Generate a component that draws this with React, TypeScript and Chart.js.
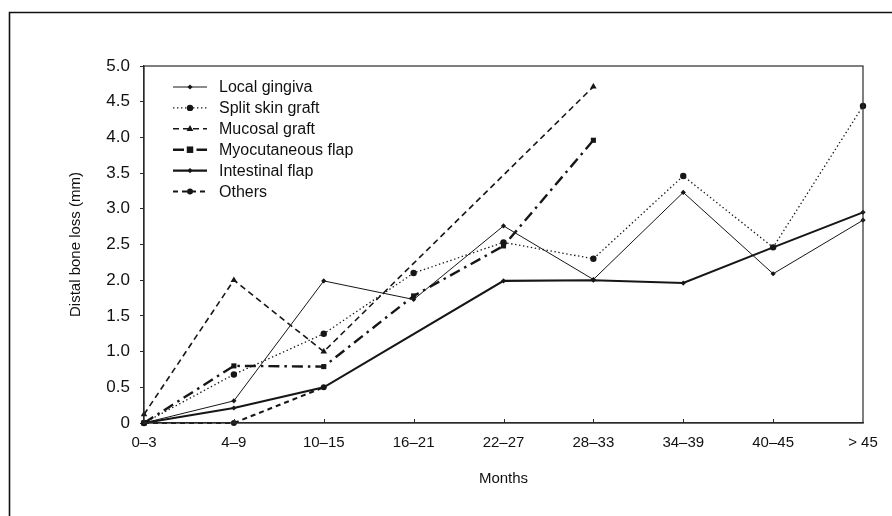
import React, { useEffect, useRef } from 'react';
import { Chart, registerables } from 'chart.js';

Chart.register(...registerables);

const categories = ['0–3', '4–9', '10–15', '16–21', '22–27', '28–33', '34–39', '40–45', '> 45'];

const localGingiva = [0, 0.31, 1.99, 1.73, 2.76, 2.01, 3.23, 2.09, 2.84];
const splitSkinGraft = [0, 0.68, 1.25, 2.1, 2.53, 2.3, 3.46, 2.46, 4.44];
const mucosalGraft = [0.12, 2.0, 1.0, null, null, 4.71, null, null, null];
const myocutaneousFlap = [0, 0.8, 0.79, 1.78, 2.48, 3.96, null, null, null];
const intestinalFlap = [0, 0.21, 0.5, null, 1.99, 2.0, 1.96, 2.46, 2.95];
const others = [0, 0, 0.5, null, null, null, null, null, null];

const seriesNames = ['Local gingiva', 'Split skin graft', 'Mucosal graft', 'Myocutaneous flap', 'Intestinal flap', 'Others'];

const yMin = 0;
const yMax = 5;
const yStep = 0.5;

const INK = '#161616';
const SANS = '"Liberation Sans", Arial, sans-serif';
const NARROW = '"Liberation Sans Narrow", "Arial Narrow", "Liberation Sans", sans-serif';

type Style = { width: number; dash: number[]; point: string; radius: number };
const styles: Style[] = [
  { width: 1, dash: [], point: 'rectRot', radius: 2.6 },
  { width: 1.3, dash: [1.4, 2.6], point: 'circle', radius: 3.2 },
  { width: 1.6, dash: [6, 4], point: 'triangle', radius: 3.8 },
  { width: 2.4, dash: [11, 5, 2.5, 5], point: 'rect', radius: 3.6 },
  { width: 2.1, dash: [], point: 'rectRot', radius: 2.6 },
  { width: 2.1, dash: [5, 4], point: 'circle', radius: 3.0 },
];

function drawMarker(ctx: CanvasRenderingContext2D, kind: string, x: number, y: number, r: number) {
  ctx.beginPath();
  if (kind === 'circle') {
    ctx.arc(x, y, r, 0, Math.PI * 2);
  } else if (kind === 'rect') {
    ctx.rect(x - r * 0.9, y - r * 0.9, r * 1.8, r * 1.8);
  } else if (kind === 'rectRot') {
    ctx.moveTo(x, y - r);
    ctx.lineTo(x + r, y);
    ctx.lineTo(x, y + r);
    ctx.lineTo(x - r, y);
    ctx.closePath();
  } else if (kind === 'triangle') {
    ctx.moveTo(x, y - r);
    ctx.lineTo(x + r * 0.9, y + r * 0.6);
    ctx.lineTo(x - r * 0.9, y + r * 0.6);
    ctx.closePath();
  }
  ctx.fill();
}

const decorPlugin = {
  id: 'decor',
  beforeDraw(chart: any) {
    const ctx = chart.ctx as CanvasRenderingContext2D;
    ctx.save();
    ctx.fillStyle = '#fff';
    ctx.fillRect(0, 0, chart.width, chart.height);
    ctx.strokeStyle = '#111';
    ctx.lineWidth = 1.6;
    ctx.beginPath();
    ctx.moveTo(9.5, chart.height);
    ctx.lineTo(9.5, 12.5);
    ctx.lineTo(chart.width, 12.5);
    ctx.stroke();
    ctx.restore();
  },
  afterDatasetsDraw(chart: any) {
    const ctx = chart.ctx as CanvasRenderingContext2D;
    const { left, right, top, bottom } = chart.chartArea;
    const xs = chart.scales.x;
    ctx.save();
    // frame
    ctx.strokeStyle = '#2a2a2a';
    ctx.lineWidth = 1.2;
    ctx.setLineDash([]);
    ctx.strokeRect(left, top, right - left, bottom - top);
    // inward x ticks
    ctx.lineWidth = 1;
    for (let i = 1; i < categories.length - 1; i++) {
      const px = Math.round(xs.getPixelForValue(i)) + 0.5;
      ctx.beginPath();
      ctx.moveTo(px, bottom);
      ctx.lineTo(px, bottom - 4);
      ctx.stroke();
    }
    // legend
    const lx0 = 173;
    const lx1 = 207;
    const tx = 219;
    const y0 = 87;
    const dy = 20.9;
    ctx.font = '16px ' + SANS;
    ctx.textBaseline = 'middle';
    ctx.textAlign = 'left';
    seriesNames.forEach((name, i) => {
      const y = y0 + i * dy;
      const st = styles[i];
      ctx.strokeStyle = INK;
      ctx.fillStyle = INK;
      ctx.lineWidth = st.width;
      ctx.setLineDash(st.dash);
      ctx.beginPath();
      ctx.moveTo(lx0, y);
      ctx.lineTo(lx1, y);
      ctx.stroke();
      ctx.setLineDash([]);
      drawMarker(ctx, st.point, (lx0 + lx1) / 2, y, st.radius);
      ctx.fillStyle = '#111';
      ctx.fillText(name, tx, y + 1);
    });
    ctx.restore();
  },
};

const seriesData = [localGingiva, splitSkinGraft, mucosalGraft, myocutaneousFlap, intestinalFlap, others];

export default function App() {
  const ref = useRef<HTMLCanvasElement | null>(null);
  useEffect(() => {
    if (!ref.current) return;
    const chart = new Chart(ref.current, {
      type: 'line',
      data: {
        labels: categories,
        datasets: seriesData.map((d, i) => ({
          label: seriesNames[i],
          data: d,
          borderColor: INK,
          backgroundColor: INK,
          borderWidth: styles[i].width,
          borderDash: styles[i].dash,
          pointStyle: styles[i].point as any,
          pointRadius: styles[i].radius,
          pointBorderWidth: 0,
          pointBackgroundColor: INK,
          tension: 0,
          spanGaps: true,
          fill: false,
          clip: false as any,
        })),
      },
      options: {
        animation: false,
        responsive: true,
        maintainAspectRatio: false,
        events: [],
        layout: { padding: { left: 0, right: 29, top: 66, bottom: 0 } },
        plugins: { legend: { display: false }, tooltip: { enabled: false } },
        scales: {
          x: {
            type: 'category',
            offset: false,
            grid: { display: false, drawTicks: false },
            border: { display: true, color: '#2a2a2a', width: 1.2 },
            ticks: {
              color: '#111',
              font: { family: NARROW, size: 15 },
              padding: 11,
              maxRotation: 0,
              autoSkip: false,
            },
            title: {
              display: true,
              text: 'Months',
              color: '#111',
              font: { family: NARROW, size: 15 },
              padding: { top: 0, bottom: 28 },
            },
            afterFit: (s: any) => { s.height = 93; },
          },
          y: {
            min: yMin,
            max: yMax,
            grid: { display: true, drawOnChartArea: false, drawTicks: true, tickLength: 4, color: '#2a2a2a' },
            border: { display: true, color: '#2a2a2a', width: 1.2 },
            ticks: {
              stepSize: yStep,
              color: '#111',
              font: { family: SANS, size: 17 },
              padding: 10,
              callback: (v: any) => (Number(v) === 0 ? '0' : Number(v).toFixed(1)),
            },
            title: {
              display: true,
              text: 'Distal bone loss (mm)',
              color: '#111',
              font: { family: SANS, size: 15 },
              padding: { top: 67, bottom: 0 },
            },
            afterFit: (s: any) => { s.width = 144; },
          },
        },
      },
      plugins: [decorPlugin],
    });
    return () => chart.destroy();
  }, []);
  return (
    <div style={{ position: 'fixed', left: 0, top: 0, width: 892, height: 516, background: '#fff' }}>
      <canvas ref={ref} />
    </div>
  );
}
